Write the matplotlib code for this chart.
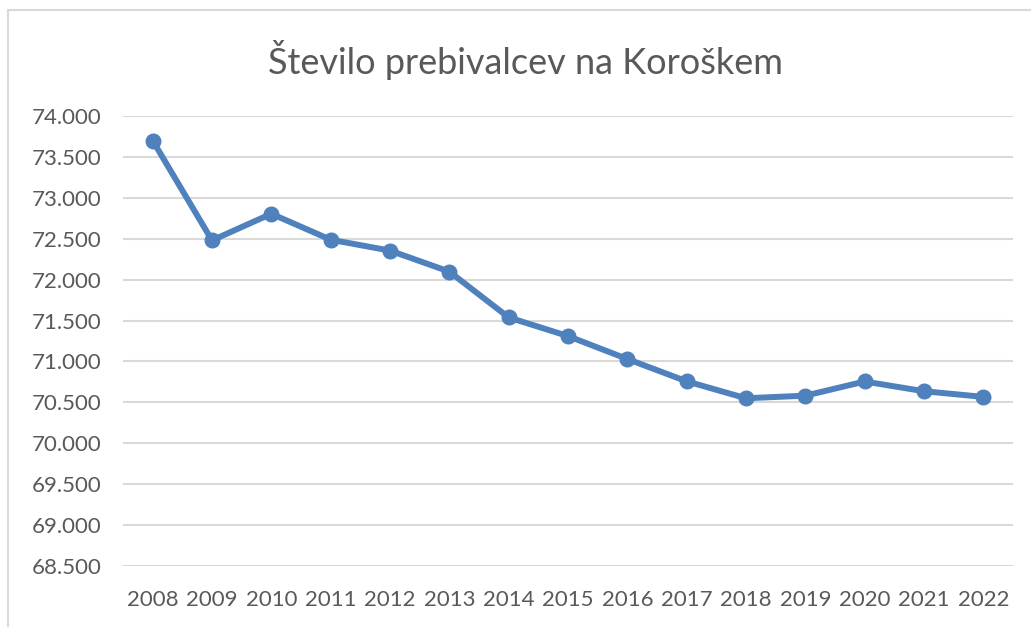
import matplotlib
matplotlib.use("Agg")
from matplotlib import pyplot as plt
from matplotlib.patches import Rectangle

years = ['2008', '2009', '2010', '2011', '2012', '2013', '2014', '2015',
         '2016', '2017', '2018', '2019', '2020', '2021', '2022']
population = [73700, 72480, 72805, 72488, 72355, 72098, 71538, 71310,
              71030, 70757, 70550, 70582, 70755, 70636, 70567]
y_ticks = [68500, 69000, 69500, 70000, 70500, 71000, 71500, 72000,
           72500, 73000, 73500, 74000]

plt.rcParams['font.family'] = ['Lato', 'DejaVu Sans']
text_col = '#595959'

W, H = 1031, 627
fig = plt.figure(figsize=(W / 100, H / 100), dpi=100)

# chart border (cut off at right/bottom like the screenshot)
fig.patches.append(Rectangle((8 / W, -0.05), 1.1, 1 - 10 / H + 0.05,
                             transform=fig.transFigure, fill=False,
                             edgecolor='#d9d9d9', linewidth=1.5))

ax = fig.add_axes([123 / W, 1 - 566 / H, (1013 - 123) / W, (566 - 116) / H])

x = list(range(len(years)))
ax.plot(x, population, color='#4f81bd', linewidth=4.3, marker='o',
        markersize=10.5, solid_capstyle='round', zorder=3)

ax.set_xlim(-0.5, len(years) - 0.5)
ax.set_ylim(y_ticks[0], y_ticks[-1])
ax.set_yticks(y_ticks)
ax.set_yticklabels([f"{v:,}".replace(',', '.') for v in y_ticks])
ax.set_xticks(x)
ax.set_xticklabels(years)

ax.grid(axis='y', color='#d9d9d9', linewidth=1.5)
ax.set_axisbelow(True)
for s in ax.spines.values():
    s.set_visible(False)
ax.tick_params(length=0, labelsize=16, colors=text_col)
ax.tick_params(axis='y', pad=15.5)
ax.tick_params(axis='x', pad=17)

fig.text(526 / W, 1 - 60 / H, 'Število prebivalcev na Koroškem',
         ha='center', va='center', fontsize=26, color=text_col)

fig.savefig('out.png', dpi=100)
